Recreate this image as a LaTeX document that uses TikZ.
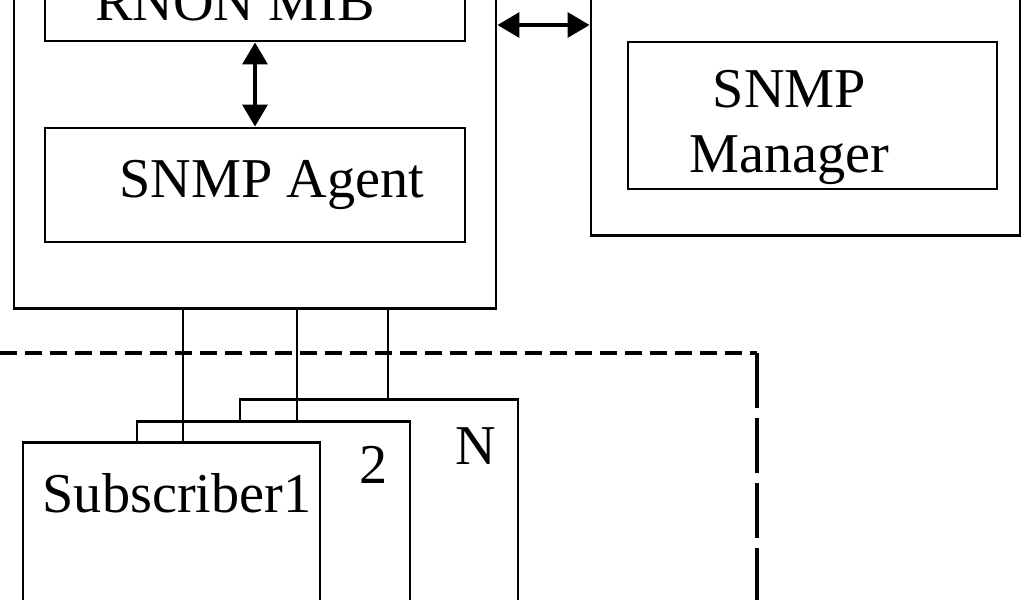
\documentclass[tikz,border=0pt]{standalone}
\usepackage{fontspec}
\setmainfont{Liberation Serif}
\usetikzlibrary{arrows.meta,positioning}

\begin{document}
\begin{tikzpicture}[
  box/.style={draw, line width=1.7pt, inner sep=0pt, minimum width=#1},
  sub/.style={draw, line width=1.7pt, fill=white, inner sep=0pt, anchor=north,
              minimum width=#1, minimum height=6cm},
  dblarr/.style={{Triangle[length=0.44cm, width=0.5cm]}-{Triangle[length=0.44cm, width=0.5cm]},
                 line width=2pt},
  wire/.style={line width=1.2pt},
  lbl/.style={font=\fontsize{32}{37}\selectfont, inner sep=0pt, align=center},
  border/.style={line width=2pt, dash pattern=#1},
]
\path[use as bounding box, clip] (0,0) rectangle (20.48,-12);
% Nodes
\node[box=9.64cm, minimum height=7.76cm] (agentsys) at (5.1,-2.28)  {};
\node[box=8.4cm,  minimum height=1.56cm] (mib)      at (5.1,-0.04)  {};
\node[box=8.4cm,  minimum height=2.28cm] (agent)    at (5.1,-3.7)   {};
\node[box=8.58cm, minimum height=6.3cm]  (mgrsys)   at (16.11,-1.55) {};
\node[box=7.38cm, minimum height=2.94cm] (mgr)      at (16.25,-2.31) {};
\node[lbl] (mibtxt)   at ([xshift=-0.4cm]mib.center)              {RNON MIB};
\node[lbl] (agenttxt) at ([xshift=0.34cm]agent.center)            {SNMP Agent};
\node[lbl] (mgrtxt)   at ([shift={(-0.46,-0.24)}]mgr.center)      {SNMP\\Manager};
% Subscribers (back to front)
\node[sub=5.56cm] (subN) at (7.58,-7.96) {};
\node[sub=5.46cm] (sub2) at (5.47,-8.4)  {};
\node[sub=5.94cm] (sub1) at (3.43,-8.82) {};
\node[lbl] (lblN) at ([shift={(-0.88,-0.96)}]subN.north east) {N};
\node[lbl] (lbl2) at ([shift={(-0.76,-0.9)}]sub2.north east)  {2};
\node[lbl] (lbl1) at ([shift={(0.11,-1.04)}]sub1.north)       {Subscriber1};
% Arrows
\draw[dblarr] (mib.south) -- (agent.north);
\draw[dblarr] (agentsys.east |- 0,-0.5) -- (mgrsys.west |- 0,-0.5);
% Wires
\draw[wire] (agentsys.south -| 3.66,0) -- (sub1.north -| 3.66,0);
\draw[wire] (agentsys.south -| 5.94,0) -- (sub2.north -| 5.94,0);
\draw[wire] (agentsys.south -| 7.76,0) -- (subN.north -| 7.76,0);
% Dashed boundary
\coordinate (bcorner) at (15.14,-7.06);
\draw[border={on 0.34cm off 0.16cm}] (0,-7.06) -- (bcorner);
\draw[border={on 1.1cm off 0.2cm}] (bcorner) -- (15.14,-12);
\end{tikzpicture}
\end{document}
